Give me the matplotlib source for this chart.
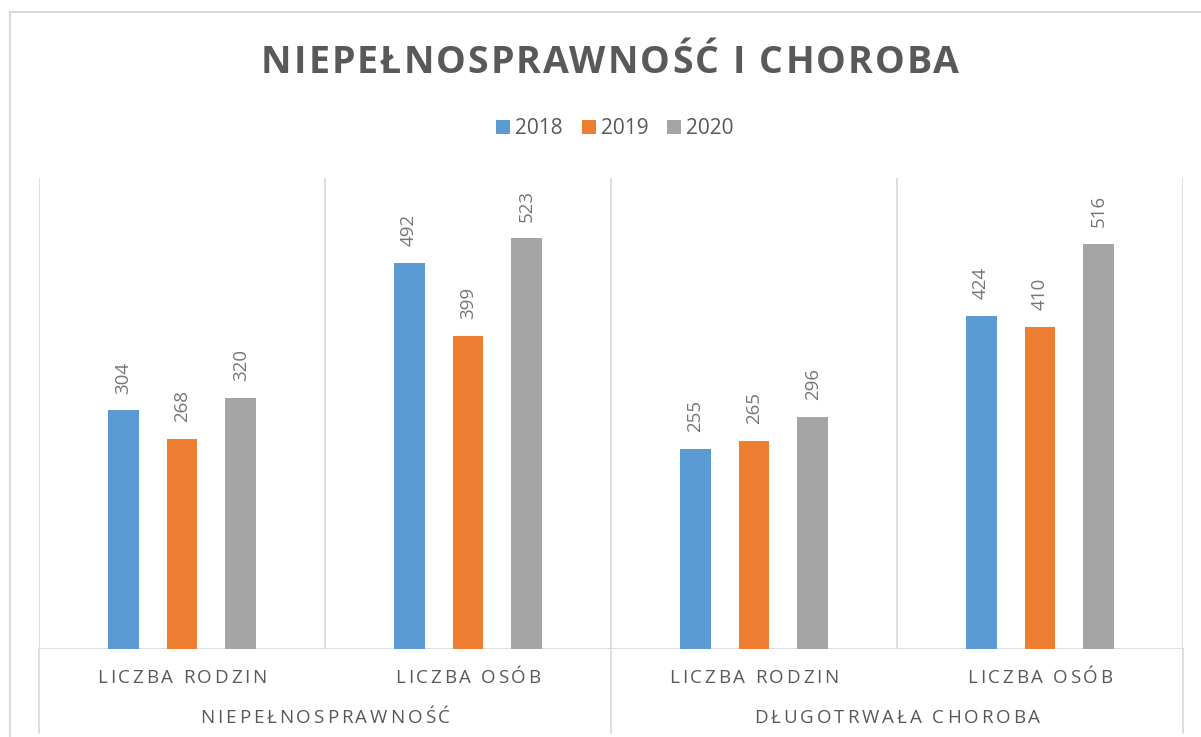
import matplotlib
matplotlib.use('Agg')
import matplotlib.pyplot as plt
import numpy as np
from matplotlib.font_manager import FontProperties
from matplotlib.lines import Line2D

# data
groups = ['NIEPEŁNOSPRAWNOŚĆ', 'DŁUGOTRWAŁA CHOROBA']
categories = ['LICZBA RODZIN', 'LICZBA OSÓB', 'LICZBA RODZIN', 'LICZBA OSÓB']
years = ['2018', '2019', '2020']
v2018 = [304, 492, 255, 424]
v2019 = [268, 399, 265, 410]
v2020 = [320, 523, 296, 516]
title = 'NIEPEŁNOSPRAWNOŚĆ I CHOROBA'

colors = ['#5B9BD5', '#ED7D31', '#A5A5A5']
TXT = '#595959'
GRID = '#D9D9D9'

W, H = 1201, 737
fig = plt.figure(figsize=(W / 100, H / 100), dpi=100)
plt.rcParams['font.family'] = ['Open Sans', 'DejaVu Sans']

ax = fig.add_axes([39 / W, 1 - 649 / H, (1183 - 39) / W, (649 - 178) / H])

x = np.arange(len(categories))
width = 0.108
step = 0.206
for i, vals in enumerate([v2018, v2019, v2020]):
    bars = ax.bar(x + (i - 1) * step, vals, width, color=colors[i], label=years[i], zorder=3)
    for b, v in zip(bars, vals):
        ax.annotate(str(v), (b.get_x() + b.get_width() / 2, v), xytext=(0, 12),
                    textcoords='offset points', rotation=90, ha='center', va='bottom',
                    fontsize=13.5, color='#767676')

ax.set_xlim(-0.5, len(categories) - 0.5)
ax.set_ylim(0, 600)
for s in ax.spines.values():
    s.set_visible(False)
ax.set_xticks([])
ax.set_yticks([])

# vertical grid lines between categories and the baseline
for xv in np.arange(-0.5, len(categories), 1.0):
    ax.axvline(xv, color=GRID, lw=1.2, zorder=1)
ax.axhline(0, color=GRID, lw=1.2, zorder=2)
# group separators reach down through label area
trans = ax.get_xaxis_transform()
for xv in [-0.5, 1.5, 3.5]:
    ax.plot([xv, xv], [0, -0.178], color=GRID, lw=1.2, transform=trans, clip_on=False)

# border of chart area
fig.add_artist(Line2D([10 / W, 10 / W], [0, 1 - 12 / H], color=GRID, lw=1.5))
fig.add_artist(Line2D([10 / W, 1], [1 - 12 / H, 1 - 12 / H], color=GRID, lw=1.5))

fig.canvas.draw()
rend = fig.canvas.get_renderer()


def spaced_text(xc, ybase, s, fs, spacing, weight='normal'):
    # text with extra letter spacing, xc/ybase in pixels from top-left
    fp = FontProperties(family='Open Sans', size=fs, weight=weight)

    def wid(t):
        return rend.get_text_width_height_descent(t, fp, ismath=False)[0]

    total = wid(s) + spacing * (len(s) - 1)
    x0 = xc - total / 2
    for i, ch in enumerate(s):
        if ch == ' ':
            continue
        off = wid(s[:i + 1]) - wid(ch)
        fig.text((x0 + off + i * spacing) / W, 1 - ybase / H, ch, fontproperties=fp,
                 color=TXT, ha='left', va='baseline')


spaced_text(610, 73, title, 27, 2.1, weight='bold')

# category and group labels
for xi, c in zip(x, categories):
    xc = ax.transData.transform((xi, 0))[0]
    spaced_text(xc, 683, c, 13.5, 2.7)
for gi, g in enumerate(groups):
    xc = ax.transData.transform((gi * 2 + 0.5, 0))[0]
    spaced_text(xc, 723, g, 13.5, 2.9)

fig.legend(loc='center', bbox_to_anchor=(615 / W, 1 - 129 / H), ncol=3, frameon=False,
           fontsize=15, labelcolor=TXT, handlelength=0.67, handleheight=0.67,
           handletextpad=0.25, columnspacing=0.9)

fig.savefig('out.png', dpi=100)
